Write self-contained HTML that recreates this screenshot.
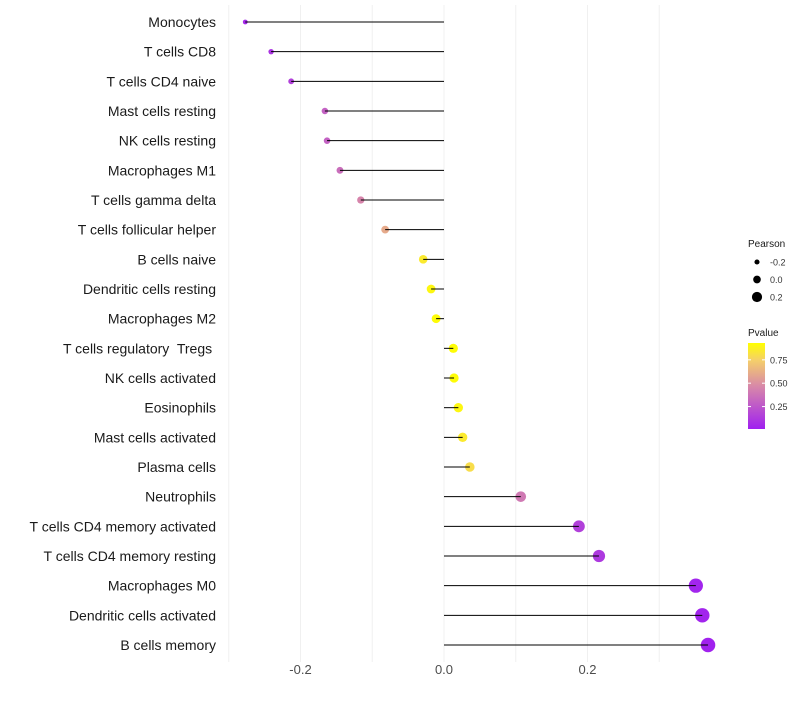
<!DOCTYPE html>
<html><head><meta charset="utf-8"><style>
body{margin:0;background:#fff;font-family:"Liberation Sans",sans-serif}
</style></head><body>
<svg id="chart" width="800" height="700" xmlns="http://www.w3.org/2000/svg"></svg>
<script>
const categories=["Monocytes","T cells CD8","T cells CD4 naive","Mast cells resting","NK cells resting","Macrophages M1","T cells gamma delta","T cells follicular helper","B cells naive","Dendritic cells resting","Macrophages M2","T cells regulatory  Tregs ","NK cells activated","Eosinophils","Mast cells activated","Plasma cells","Neutrophils","T cells CD4 memory activated","T cells CD4 memory resting","Macrophages M0","Dendritic cells activated","B cells memory"];
const pearson=[-0.277,-0.241,-0.213,-0.166,-0.163,-0.145,-0.116,-0.082,-0.029,-0.018,-0.011,0.013,0.014,0.020,0.026,0.036,0.107,0.188,0.216,0.351,0.360,0.368];
const pvalue=[0.05,0.1,0.15,0.3,0.3,0.35,0.45,0.6,0.85,0.9,0.92,0.92,0.92,0.9,0.85,0.8,0.4,0.15,0.12,0.03,0.03,0.02];
const xTicks=[-0.2,0.0,0.2];
const xTickLabels=["-0.2","0.0","0.2"];
const gridVals=[-0.3,-0.2,-0.1,0,0.1,0.2,0.3];
const sizeLegend=[-0.2,0.0,0.2];
const colorTicks=[0.25,0.5,0.75];
const NS="http://www.w3.org/2000/svg";
const svg=document.getElementById('chart');
const xs=v=>444+v*717.5;
const ys=i=>22+i*29.667;
const rs=v=>4.5+7.5*v;
const stops=[[0,[160,32,240]],[0.5,[216,137,168]],[0.8,[245,207,106]],[1,[255,255,0]]];
const pmin=0.01,pmax=0.93;
function col(p){let t=Math.max(0,Math.min(1,(p-pmin)/(pmax-pmin)));for(let k=1;k<stops.length;k++){if(t<=stops[k][0]){const a=stops[k-1],b=stops[k];const f=(t-a[0])/(b[0]-a[0]);const c=a[1].map((v,j)=>Math.round(v+(b[1][j]-v)*f));return `rgb(${c})`;}}return 'rgb(255,255,0)';}
function el(tag,attrs,parent){const e=document.createElementNS(NS,tag);for(const k in attrs)e.setAttribute(k,attrs[k]);(parent||svg).appendChild(e);return e;}
gridVals.forEach(v=>{const g=el('line',{x1:xs(v),x2:xs(v),y1:5,y2:662,stroke:'#f0f0f0','stroke-width':1});

});
xTicks.forEach((v,i)=>{const t=el('text',{x:xs(v),y:674,'text-anchor':'middle','font-size':13,fill:'#4d4d4d'});t.textContent=xTickLabels[i];

});
categories.forEach((c,i)=>{const y=ys(i);
const t=el('text',{x:216,y:y+5,'text-anchor':'end','font-size':14,fill:'#1a1a1a','xml:space':'preserve'});t.style.whiteSpace='pre';t.textContent=c;


const d=el('circle',{cx:xs(pearson[i]),cy:y,r:rs(pearson[i]),fill:col(pvalue[i])});


const l=el('line',{x1:xs(0),x2:xs(pearson[i]),y1:y,y2:y,stroke:'#000','stroke-width':1});

});
const lt=el('text',{x:748,y:247,'font-size':10,fill:'#1a1a1a'});lt.textContent='Pearson';


sizeLegend.forEach((v,i)=>{const y=262+i*17.5;const c=el('circle',{cx:757,cy:y,r:rs(v)*0.85,fill:'#000'});


const t=el('text',{x:770,y:y+3.5,'font-size':9,fill:'#333'});t.textContent=v.toFixed(1);

});
const pt=el('text',{x:748,y:336,'font-size':10,fill:'#1a1a1a'});pt.textContent='Pvalue';


const defs=el('defs',{});const lg=el('linearGradient',{id:'cg',x1:0,y1:1,x2:0,y2:0},defs);
stops.forEach(s=>el('stop',{offset:s[0],'stop-color':`rgb(${s[1]})`},lg));
const bar=el('rect',{x:748,y:343,width:17,height:86,fill:'url(#cg)'});


const cy=p=>429-(p-pmin)/(pmax-pmin)*86;
colorTicks.forEach(p=>{const y=cy(p);el('line',{x1:748,x2:751,y1:y,y2:y,stroke:'#fff'});el('line',{x1:762,x2:765,y1:y,y2:y,stroke:'#fff'});
const t=el('text',{x:770,y:y+3.5,'font-size':9,fill:'#333'});t.textContent=p.toFixed(2);

});
</script>
</body></html>
